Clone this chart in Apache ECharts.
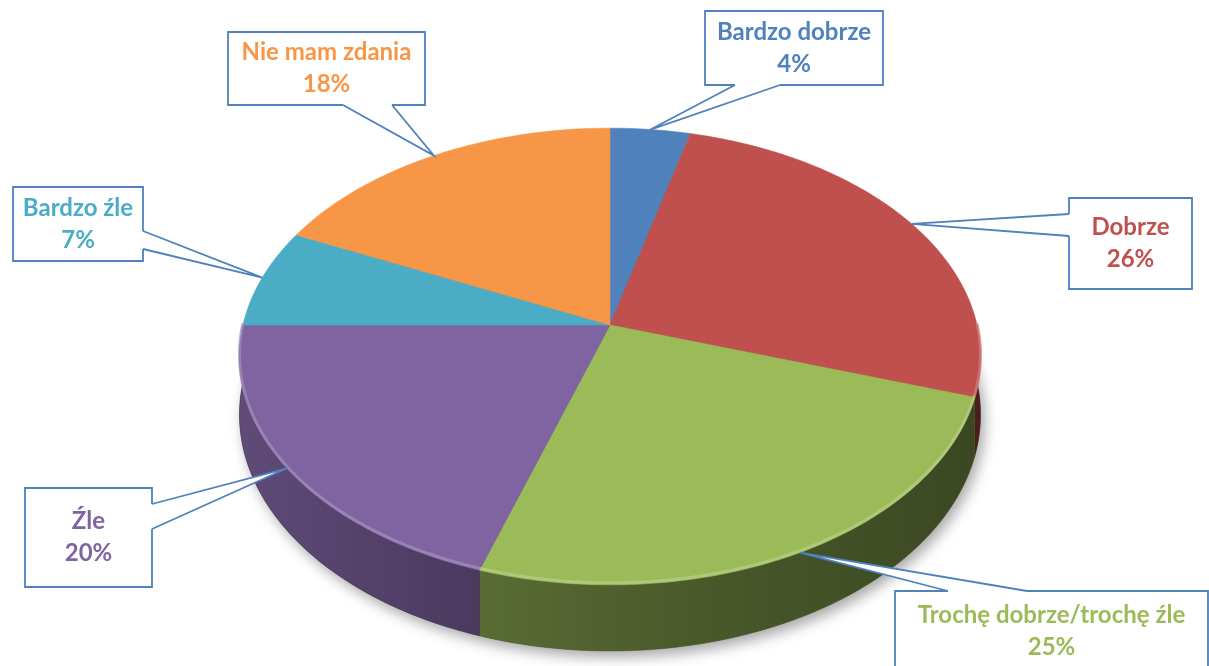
<!DOCTYPE html>
<html>
<head>
<meta charset="utf-8">
<script src="https://cdn.jsdelivr.net/npm/echarts@6/dist/echarts.min.js"></script>
<style>
  html, body { margin: 0; padding: 0; background: #fff; }
  #main { width: 1209px; height: 666px; }
</style>
</head>
<body>
<div id="main"></div>
<script>
// data
var categories = ['Bardzo dobrze', 'Dobrze', 'Trochę dobrze/trochę źle', 'Źle', 'Bardzo źle', 'Nie mam zdania'];
var percents = [4, 26, 25, 20, 7, 18];
var colors = ['#4F81BD', '#C0504D', '#9BBB59', '#8064A2', '#4BACC6', '#F79646'];

// callout boxes: x, y, w, h, side the pointer leaves from, pointer base (2 offsets along that side)
var boxes = [
  [705, 11, 178, 74, 'bottom', 735, 780],
  [1069, 198, 123, 91, 'left', 214, 236],
  [895, 591, 313, 80, 'top', 948, 1027],
  [25, 488, 127, 99, 'right', 504, 529],
  [13, 187, 130, 74, 'right', 231, 249],
  [228, 32, 197, 73, 'bottom', 343, 392]
];

// fake 3d projection of the pie disc
var cx = 610, cy = 325, rx = 367, ry = 224, persp = 0.138, depth = 57;
var total = percents.reduce(function (a, b) { return a + b; }, 0);

function proj(deg, drop) {
  var a = deg * Math.PI / 180;
  var u = Math.sin(a), v = -Math.cos(a);
  var s = 1 / (1 - persp * v);
  return [cx + rx * u * s, cy + ry * v * s + (drop ? depth * s : 0)];
}

function arc(a0, a1, drop) {
  var pts = [];
  var n = Math.max(2, Math.ceil(a1 - a0));
  for (var k = 0; k <= n; k++) pts.push(proj(a0 + (a1 - a0) * k / n, drop));
  return pts;
}

function shade(hex, f) {
  var r = parseInt(hex.substr(1, 2), 16), g = parseInt(hex.substr(3, 2), 16), b = parseInt(hex.substr(5, 2), 16);
  if (f > 1) {
    var t = f - 1;
    r = r + (255 - r) * t; g = g + (255 - g) * t; b = b + (255 - b) * t;
  } else {
    r *= f; g *= f; b *= f;
  }
  return 'rgb(' + Math.round(r) + ',' + Math.round(g) + ',' + Math.round(b) + ')';
}

var boxLine = '#4F81BD';

function renderItem(params, api) {
  var i = params.dataIndex;
  var before = 0;
  for (var k = 0; k < i; k++) before += percents[k];
  var a0 = before / total * 360;
  var a1 = (before + api.value(0)) / total * 360;
  var col = colors[i];
  var children = [];

  // soft shadow under the whole disc
  if (i === 0) {
    children.push({
      type: 'polygon', z2: 0,
      shape: { points: arc(0, 360, true) },
      style: { fill: '#666', shadowBlur: 14, shadowColor: 'rgba(0,0,0,0.35)', shadowOffsetX: 4, shadowOffsetY: 6 }
    });
  }

  // side wall (only the front half is visible)
  var lo = Math.max(a0, 90), hi = Math.min(a1, 270);
  if (lo < hi) {
    var top = arc(lo, hi, false);
    var bot = arc(lo, hi, true).reverse();
    children.push({
      type: 'polygon', z2: 2,
      shape: { points: top.concat(bot) },
      style: {
        fill: new echarts.graphic.LinearGradient(243, 0, 980, 0, [
          { offset: 0, color: shade(col, 0.74) },
          { offset: 0.32, color: shade(col, 0.58) },
          { offset: 0.6, color: shade(col, 0.48) },
          { offset: 1, color: shade(col, 0.38) }
        ], true),
        stroke: shade(col, 0.5), lineWidth: 0.5
      }
    });
    // bevel highlight along the front rim
    children.push({
      type: 'polyline', z2: 6,
      shape: { points: arc(lo, hi, false).map(function (p) { return [p[0], p[1] - 2]; }) },
      style: { stroke: shade(col, 1.28), lineWidth: 3, opacity: 0.7, fill: null }
    });
  }

  // top face
  children.push({
    type: 'polygon', z2: 4,
    shape: { points: [[cx, cy]].concat(arc(a0, a1, false)) },
    style: { fill: col, stroke: col, lineWidth: 0.6 }
  });

  // callout
  var b = boxes[i];
  var bx = b[0], by = b[1], bw = b[2], bh = b[3], side = b[4];
  var tip = proj((a0 + a1) / 2, false);
  var p1, p2, q1, q2;
  if (side === 'bottom') { p1 = [b[5], by + bh]; p2 = [b[6], by + bh]; q1 = [b[5], by + bh - 2]; q2 = [b[6], by + bh - 2]; }
  if (side === 'top') { p1 = [b[5], by]; p2 = [b[6], by]; q1 = [b[5], by + 2]; q2 = [b[6], by + 2]; }
  if (side === 'left') { p1 = [bx, b[5]]; p2 = [bx, b[6]]; q1 = [bx + 2, b[5]]; q2 = [bx + 2, b[6]]; }
  if (side === 'right') { p1 = [bx + bw, b[5]]; p2 = [bx + bw, b[6]]; q1 = [bx + bw - 2, b[5]]; q2 = [bx + bw - 2, b[6]]; }

  children.push({
    type: 'rect', z2: 20,
    shape: { x: bx, y: by, width: bw, height: bh },
    style: { fill: '#fff', stroke: boxLine, lineWidth: 1.8 }
  });
  children.push({
    type: 'polygon', z2: 21,
    shape: { points: [q1, p1, tip, p2, q2] },
    style: { fill: '#fff' }
  });
  children.push({
    type: 'polyline', z2: 22,
    shape: { points: [p1, tip, p2] },
    style: { stroke: boxLine, lineWidth: 1.8, fill: null }
  });
  children.push({
    type: 'text', z2: 23,
    x: bx + bw / 2, y: by + bh / 2,
    style: {
      text: categories[i] + '\n' + api.value(0) + '%',
      fill: col,
      fontFamily: 'Lato',
      fontWeight: 'bold',
      fontSize: 24,
      lineHeight: 32,
      align: 'center',
      verticalAlign: 'middle'
    }
  });

  return { type: 'group', children: children };
}

var chart = echarts.init(document.getElementById('main'));
chart.setOption({
  backgroundColor: '#ffffff',
  animation: false,
  series: [{
    type: 'custom',
    coordinateSystem: 'none',
    silent: true,
    renderItem: renderItem,
    data: percents.map(function (v) { return [v]; })
  }]
});
</script>
</body>
</html>
